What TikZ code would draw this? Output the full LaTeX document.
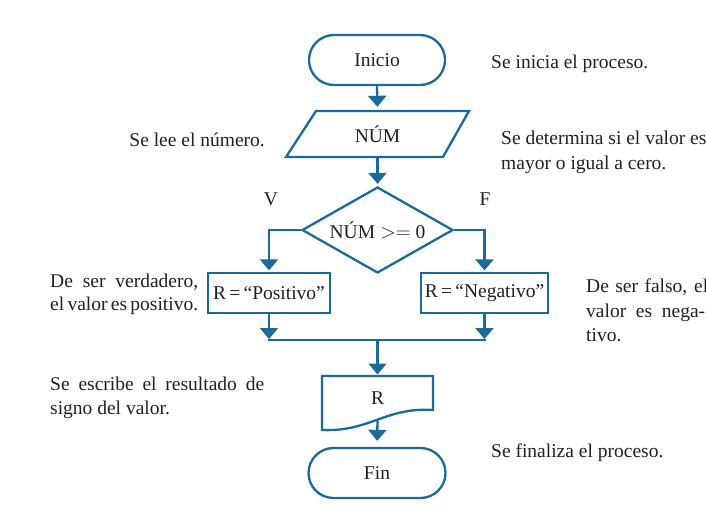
\documentclass[tikz,border=0pt]{standalone}
\usepackage{fontspec}
\setmainfont{Liberation Serif}
\usetikzlibrary{shapes.geometric,arrows.meta}
\definecolor{fblue}{HTML}{1B6A97}
\definecolor{ftext}{HTML}{231F20}
\begin{document}
\begin{tikzpicture}[x=1pt,y=-1pt,
  every node/.style={text=ftext, font=\fontsize{19.5}{25}\selectfont},
  flow/.style={draw=fblue, line width=2.3pt},
  arr/.style={draw=fblue, line width=2.3pt, -{Triangle[width=18pt,length=11pt]}, shorten >=3pt},
  arrj/.style={draw=fblue, line width=2.3pt, -{Triangle[width=18pt,length=11pt]}, shorten >=1pt},
  term/.style={flow, rounded corners=25pt, minimum height=50pt, inner sep=0pt},
  procbox/.style={flow, minimum height=40pt, inner sep=0pt},
  note/.style={anchor=base west, inner sep=0pt},
  noteR/.style={anchor=base east, inner sep=0pt},
]
\useasboundingbox (0,0) rectangle (706,506);
\clip (0,0) rectangle (706,506);

% shapes
\node[term, minimum width=136pt] (inicio) at (377,60) {Inicio};
\draw[flow] (316,111) -- (469,111) -- (443,157) -- (286,157) -- cycle;
\node[minimum width=157pt, minimum height=46pt, inner sep=0pt] (num) at (377.5,134) {NÚM};
\node[diamond, flow, aspect=1.76, minimum width=151pt, minimum height=86pt, inner sep=0pt] (dec) at (377.5,230) {NÚM $>=$ 0};
\node[procbox, minimum width=122pt] (pos) at (269,293) {R\,=\,“Positivo”};
\node[procbox, minimum width=127pt] (neg) at (484.5,293) {R\,=\,“Negativo”};
\coordinate (join) at (377.5,340);
\draw[flow] (322,376) -- (433,376) -- (433,410) .. controls (385,407) and (370,432) .. (322,430) -- cycle;
\node[inner sep=0pt] (doc) at (377.5,398) {R};
\coordinate (doctop) at (377.5,376);
\coordinate (docbot) at (377.5,420);
\node[term, minimum width=137pt] (fin) at (377,473) {Fin};

% connectors
\draw[arr, shorten >=4pt] (inicio.south) -- (num.north);
\draw[arr, shorten >=2pt] (num.south) -- (dec.north);
\draw[arr, shorten >=1.5pt] (dec.west) -| (pos.north);
\draw[arr, shorten >=1.5pt] (dec.east) -| (neg.north);
\draw[arrj] (pos.south) -- (pos.south |- join);
\draw[arrj] (neg.south) -- (neg.south |- join);
\draw[flow] ([xshift=-1.15pt]pos.south |- join) -- ([xshift=1.15pt]neg.south |- join);
\draw[arr, shorten >=1.5pt] (join) -- (doctop);
\draw[arr, shorten >=6pt] (docbot) -- (fin.north);

% labels
\node[note] (t1) at (491,68) {Se inicia el proceso.};
\node[noteR] (t2) at (265,146) {Se lee el número.};
\node[note] (t3a) at (501,144) {Se determina si el valor es};
\node[note] (t3b) at (501,169) {mayor o igual a cero.};
\node[anchor=base, inner sep=0pt] (lv) at (271,205) {V};
\node[anchor=base, inner sep=0pt] (lf) at (485,205) {F};
\node[note] (t4a) at (50,287) {\makebox[148pt][s]{De ser verdadero,}};
\node[note] (t4b) at (50,310) {\makebox[148pt][s]{el valor es positivo.}};
\node[note] (t5a) at (586,292) {\makebox[122pt][s]{De ser falso, el}};
\node[note] (t5b) at (586,317) {\makebox[119pt][s]{valor es nega-}};
\node[note] (t5c) at (586,341) {tivo.};
\node[note] (t6a) at (50,390) {\makebox[214pt][s]{Se escribe el resultado de}};
\node[note] (t6b) at (50,414) {signo del valor.};
\node[note] (t7) at (491,457) {Se finaliza el proceso.};
\end{tikzpicture}
\end{document}
